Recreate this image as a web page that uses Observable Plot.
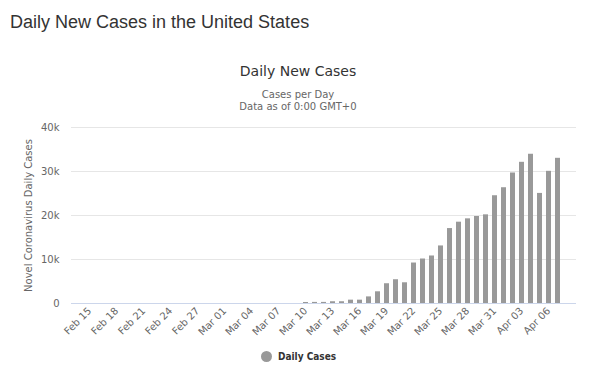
<!DOCTYPE html>
<html>
<head>
<meta charset="utf-8">
<script src="https://cdn.jsdelivr.net/npm/d3@7"></script>
<script src="https://cdn.jsdelivr.net/npm/@observablehq/plot@0.6"></script>
<style>
  body { margin: 0; background: #fff; }
  #wrap { position: relative; width: 600px; height: 379px; overflow: hidden; font-family: "DejaVu Sans", sans-serif; }
  #pageTitle { position: absolute; left: 10px; top: 12px; font: 18px "Liberation Sans", Arial, sans-serif; color: #333; white-space: nowrap; }
  #chartTitle { position: absolute; left: 0; width: 596px; top: 63px; text-align: center; font-size: 14px; color: #333; }
  #sub { position: absolute; left: 0; width: 596px; top: 89px; text-align: center; font-size: 10px; line-height: 12px; color: #666; }
  #chart { position: absolute; left: 0; top: 110px; }
  #legend { position: absolute; left: 261px; top: 351px; font-family: "DejaVu Sans Condensed", "DejaVu Sans", sans-serif; font-size: 10px; font-weight: bold; color: #333; display: flex; align-items: center; }
  #legend .dot { width: 11px; height: 11px; border-radius: 50%; background: #999; margin-right: 6px; }
</style>
</head>
<body>
<div id="wrap">
  <div id="pageTitle">Daily New Cases in the United States</div>
  <div id="chartTitle">Daily New Cases</div>
  <div id="sub">Cases per Day<br>Data as of 0:00 GMT+0</div>
  <div id="chart"></div>
  <div id="legend"><span class="dot"></span>Daily Cases</div>
</div>
<script>
const dates = [
  "Feb 15","Feb 16","Feb 17","Feb 18","Feb 19","Feb 20","Feb 21","Feb 22","Feb 23","Feb 24",
  "Feb 25","Feb 26","Feb 27","Feb 28","Feb 29","Mar 01","Mar 02","Mar 03","Mar 04","Mar 05",
  "Mar 06","Mar 07","Mar 08","Mar 09","Mar 10","Mar 11","Mar 12","Mar 13","Mar 14","Mar 15",
  "Mar 16","Mar 17","Mar 18","Mar 19","Mar 20","Mar 21","Mar 22","Mar 23","Mar 24","Mar 25",
  "Mar 26","Mar 27","Mar 28","Mar 29","Mar 30","Mar 31","Apr 01","Apr 02","Apr 03","Apr 04",
  "Apr 05","Apr 06","Apr 07"
];
const cases = [
  0, 0, 0, 0, 0, 0, 0, 0, 0, 0,
  0, 0, 0, 0, 0, 0, 0, 0, 0, 0,
  0, 0, 0, 0, 230, 250, 250, 400, 400, 760,
  760, 1500, 2660, 4490, 5400, 4710, 9200, 10110, 10800, 13080,
  17030, 18480, 19240, 19770, 20150, 24490, 26310, 29660, 32090, 33920,
  25020, 30040, 33000
];
const xTicks = ["Feb 15","Feb 18","Feb 21","Feb 24","Feb 27","Mar 01","Mar 04","Mar 07",
  "Mar 10","Mar 13","Mar 16","Mar 19","Mar 22","Mar 25","Mar 28","Mar 31","Apr 03","Apr 06"];
const yTicks = [0, 10000, 20000, 30000, 40000];
const yTickLabels = ["0", "10k", "20k", "30k", "40k"];

const data = dates.map((d, i) => ({date: d, value: cases[i]}));

const chart = Plot.plot({
  width: 600,
  height: 235,
  marginLeft: 71,
  marginRight: 24,
  marginTop: 17,
  marginBottom: 42,
  style: {fontFamily: "DejaVu Sans, sans-serif", fontSize: "10px", color: "#666", background: "#fff"},
  x: {type: "band", domain: dates, paddingInner: 0.5, paddingOuter: 0.25, axis: null},
  y: {domain: [0, 40000]},
  marks: [
    Plot.gridY(yTicks, {stroke: "#e6e6e6", strokeOpacity: 1}),
    Plot.barY(data, {x: "date", y: "value", fill: "#999999"}),
    Plot.ruleY([0], {stroke: "#ccd6eb"}),
    Plot.axisY(yTicks, {
      tickSize: 0, tickPadding: 12,
      tickFormat: (d) => yTickLabels[yTicks.indexOf(d)],
      label: "Novel Coronavirus Daily Cases", labelAnchor: "center", labelArrow: "none", labelOffset: 47,
      fill: "#666"
    }),
    Plot.text(xTicks, {
      x: (d) => d, frameAnchor: "bottom", rotate: -45, textAnchor: "end",
      dx: 2, dy: 8, fill: "#666", fontSize: 10
    })
  ]
});
document.getElementById("chart").appendChild(chart);
</script>
</body>
</html>
